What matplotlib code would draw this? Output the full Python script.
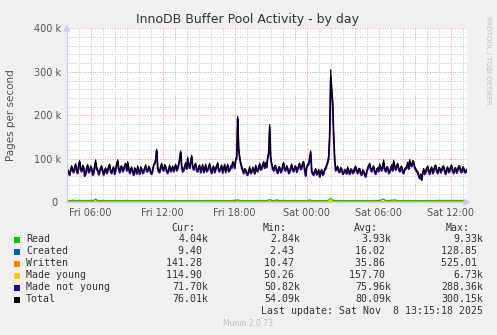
import matplotlib
matplotlib.use("Agg")
import matplotlib.pyplot as plt
from matplotlib.patches import Rectangle
from matplotlib.ticker import FixedLocator, MultipleLocator

# 5 minute samples, hours counted from Fri 00:00 (first sample Fri 04:05)
start_h = 4 + 5 / 60
step_h = 5 / 60

not_young_k = [
    72, 66, 62, 74, 80, 71, 68, 79, 85, 70, 66, 84, 92, 74, 70, 82, 78, 60, 64, 76,
    83, 68, 70, 80, 76, 62, 65, 82, 90, 75, 72, 63, 68, 78, 80, 70, 62, 72, 76, 66,
    70, 81, 84, 69, 66, 75, 78, 64, 72, 86, 94, 76, 68, 79, 80, 70, 74, 83, 86, 72,
    90, 77, 66, 73, 78, 68, 62, 76, 72, 65, 80, 71, 64, 78, 74, 66, 68, 77, 82, 71,
    70, 79, 76, 67, 64, 72, 84, 88, 96, 118, 78, 70, 68, 80, 86, 74, 72, 83, 80, 69,
    66, 74, 82, 70, 74, 80, 70, 78, 84, 72, 76, 86, 98, 114, 80, 70, 72, 81, 88, 76,
    100, 84, 78, 92, 104, 80, 74, 83, 86, 72, 70, 79, 82, 68, 76, 84, 68, 74, 84, 70,
    72, 80, 86, 73, 66, 77, 80, 68, 74, 82, 88, 71, 70, 78, 82, 67, 76, 84, 68, 76,
    84, 70, 72, 80, 78, 90, 86, 78, 96, 100, 192, 120, 100, 88, 80, 72, 66, 74, 72, 64,
    62, 70, 78, 66, 68, 77, 74, 65, 82, 72, 70, 79, 86, 74, 76, 84, 90, 78, 88, 80,
    100, 110, 172, 100, 86, 76, 72, 80, 80, 70, 66, 77, 78, 68, 70, 82, 88, 74, 72, 81,
    76, 66, 68, 78, 84, 72, 70, 79, 80, 69, 74, 83, 86, 75, 78, 88, 90, 72, 60, 80,
    84, 86, 100, 114, 70, 64, 62, 70, 74, 63, 66, 72, 58, 68, 72, 62, 64, 74, 76, 84,
    90, 100, 150, 288.36, 255, 224, 150, 95, 72, 76, 80, 70, 68, 77, 74, 64, 66, 72, 70, 65,
    78, 70, 64, 73, 72, 66, 68, 76, 80, 70, 66, 74, 74, 64, 62, 71, 70, 63, 58, 68,
    76, 82, 86, 74, 70, 78, 80, 68, 64, 73, 76, 70, 84, 76, 72, 80, 90, 74, 70, 78,
    78, 66, 68, 76, 82, 72, 92, 80, 74, 82, 86, 76, 70, 78, 80, 68, 66, 74, 76, 80,
    88, 76, 94, 84, 82, 92, 90, 78, 74, 70, 68, 60, 54, 62, 50.82, 66, 74, 64, 68, 76,
    80, 70, 64, 74, 78, 66, 70, 80, 82, 70, 66, 76, 76, 68, 72, 79, 80, 70, 64, 74,
    78, 68, 70, 80, 82, 70, 66, 75, 76, 67, 72, 80, 80, 70, 68, 78, 76, 68, 68, 71.70,
]

read_k = [
    3.9, 4.0, 4.1, 3.8, 4.2, 5.2, 4.1, 3.8, 4.0, 3.7, 3.9, 4.1, 3.8, 3.9, 4.0, 3.8, 4.2, 3.9, 3.8, 4.0,
    3.9, 3.7, 4.0, 3.9, 4.1, 3.8, 4.3, 5.5, 7.6, 5.1, 4.0, 3.8, 3.7, 3.9, 4.0, 3.9, 4.1, 3.8, 3.8, 4.0,
    3.9, 4.0, 3.7, 3.9, 4.0, 3.8, 4.1, 3.9, 3.8, 4.0, 3.9, 3.7, 4.1, 3.8, 3.9, 4.0, 3.8, 3.9, 4.1, 3.8,
    3.7, 3.9, 4.0, 3.8, 3.9, 4.1, 3.6, 3.9, 3.9, 4.0, 4.0, 3.8, 3.8, 3.9, 3.7, 4.0, 3.9, 3.8, 4.1, 3.9,
    3.9, 4.0, 4.1, 3.8, 3.8, 3.9, 3.7, 4.1, 4.0, 3.9, 3.9, 3.8, 3.7, 4.0, 4.0, 3.9, 3.8, 4.1, 3.9, 3.8,
    4.1, 3.9, 3.8, 4.0, 3.9, 3.8, 3.7, 4.0, 4.0, 3.9, 3.9, 3.7, 3.8, 4.0, 4.1, 3.8, 3.9, 4.1, 3.7, 3.9,
    3.9, 4.0, 3.8, 3.9, 4.0, 3.8, 3.7, 4.0, 3.9, 3.8, 4.1, 3.9, 3.8, 4.0, 3.9, 3.7, 3.6, 3.9, 4.0, 3.9,
    3.8, 3.9, 4.0, 3.8, 3.9, 4.1, 3.7, 3.9, 4.1, 3.8, 3.8, 4.0, 3.9, 3.7, 4.0, 3.9, 3.7, 3.9, 3.9, 4.0,
    4.0, 3.8, 3.8, 3.9, 3.9, 4.1, 4.1, 4.3, 4.4, 4.8, 5.6, 4.9, 4.2, 4.0, 3.8, 3.9, 3.9, 3.7, 3.7, 3.9,
    3.9, 4.0, 4.0, 3.8, 3.8, 3.9, 3.9, 4.0, 3.7, 3.9, 4.0, 3.8, 3.8, 3.9, 3.9, 4.1, 4.1, 3.8, 3.8, 3.9,
    4.5, 5.2, 6.6, 5.0, 4.2, 3.9, 3.9, 4.2, 4.8, 5.8, 4.6, 4.0, 4.0, 3.9, 3.8, 3.9, 3.9, 4.0, 3.7, 3.8,
    3.8, 4.0, 3.9, 3.8, 4.1, 3.9, 3.7, 4.0, 3.9, 3.8, 3.8, 3.9, 4.0, 3.7, 3.9, 4.1, 3.9, 3.8, 2.84, 3.4,
    4.0, 4.5, 5.4, 4.6, 3.9, 3.8, 3.8, 3.7, 3.7, 3.9, 3.9, 3.6, 3.6, 3.8, 3.8, 3.9, 3.9, 3.7, 3.7, 3.9,
    4.4, 5.2, 7.8, 9.33, 6.8, 5.0, 4.2, 4.0, 3.9, 3.8, 3.8, 4.0, 4.0, 3.7, 3.7, 3.9, 3.9, 3.8, 3.8, 3.9,
    3.9, 3.7, 3.7, 4.0, 4.0, 3.8, 3.8, 3.9, 3.9, 3.6, 3.6, 3.8, 3.8, 4.0, 4.0, 3.7, 3.7, 3.9, 3.9, 3.8,
    3.8, 4.0, 4.0, 3.9, 3.9, 3.7, 3.7, 4.1, 4.1, 3.8, 3.8, 4.0, 4.5, 4.9, 5.6, 6.5, 7.4, 5.2, 4.3, 3.9,
    3.8, 4.0, 4.0, 4.2, 4.4, 4.8, 5.0, 5.6, 4.6, 4.1, 3.9, 3.8, 3.8, 3.7, 3.7, 4.0, 4.0, 3.8, 3.8, 3.9,
    4.1, 3.9, 3.9, 3.8, 3.8, 4.0, 4.0, 3.7, 3.7, 3.9, 3.9, 3.6, 3.5, 3.6, 3.8, 3.8, 3.9, 3.9, 3.8, 3.8,
    3.8, 4.0, 4.0, 3.9, 3.9, 3.7, 3.7, 4.0, 4.0, 3.8, 3.8, 3.9, 3.9, 4.1, 4.1, 3.8, 3.8, 3.9, 3.9, 3.9,
    4.0, 3.8, 3.8, 3.9, 3.9, 4.1, 4.1, 3.8, 3.8, 3.9, 3.9, 4.0, 4.0, 3.9, 3.9, 4.1, 4.1, 4.0, 3.9, 4.04,
]

made_young = [
    112, 105, 98, 118, 125, 110, 104, 96, 118, 122, 96, 108, 130, 115, 108, 99, 101, 117, 122, 109,
    140, 131, 126, 112, 110, 104, 99, 121, 117, 112, 105, 98, 121, 109, 97, 115, 113, 104, 108, 116,
    102, 111, 119, 104, 95, 107, 114, 120, 107, 99, 128, 114, 100, 97, 111, 106, 96, 118, 123, 103,
    131, 119, 104, 112, 115, 101, 98, 110, 109, 121, 120, 106, 94, 103, 112, 118, 103, 97, 118, 109,
    106, 98, 97, 113, 121, 115, 110, 102, 142, 131, 101, 109, 116, 104, 99, 111, 124, 117, 108, 96,
    95, 104, 113, 120, 104, 98, 119, 112, 100, 107, 127, 133, 138, 121, 109, 101, 98, 110, 115, 122,
    129, 118, 103, 116, 135, 114, 97, 105, 112, 109, 106, 99, 118, 111, 101, 97, 95, 108, 120, 113,
    108, 102, 114, 107, 99, 111, 123, 116, 105, 98, 111, 103, 96, 107, 117, 112, 102, 96, 109, 118,
    121, 107, 98, 105, 113, 110, 107, 121, 136, 172, 210, 166, 125, 113, 104, 99, 97, 104, 110, 101,
    93, 106, 116, 110, 102, 104, 108, 113, 119, 107, 99, 106, 114, 110, 105, 113, 122, 127, 131, 140,
    150, 170, 188, 151, 118, 109, 101, 116, 132, 114, 97, 103, 109, 106, 103, 111, 120, 108, 96, 104,
    111, 107, 104, 110, 117, 106, 99, 103, 108, 111, 113, 119, 125, 112, 102, 114, 126, 110, 94, 104,
    115, 141, 170, 132, 98, 95, 92, 99, 106, 102, 99, 94, 90, 97, 104, 99, 95, 103, 112, 170,
    240, 1200, 4100, 6730, 1480, 620, 160, 132, 108, 111, 115, 108, 101, 104, 107, 101, 96, 99, 103, 106,
    110, 104, 97, 101, 105, 102, 99, 106, 114, 105, 96, 101, 107, 100, 93, 97, 102, 96, 91, 100,
    109, 113, 118, 109, 100, 106, 112, 105, 98, 102, 106, 113, 121, 140, 164, 146, 127, 114, 101, 104,
    108, 102, 97, 113, 130, 124, 119, 111, 103, 109, 115, 107, 99, 104, 110, 102, 95, 99, 104, 112,
    120, 124, 128, 120, 113, 117, 122, 111, 101, 99, 98, 93, 88, 86, 84, 93, 103, 100, 97, 104,
    111, 102, 94, 101, 108, 104, 100, 107, 115, 105, 96, 100, 105, 103, 102, 107, 112, 102, 93, 100,
    107, 103, 99, 107, 116, 105, 95, 99, 104, 102, 101, 105, 110, 104, 98, 102, 106, 110, 112, 114.9,
]

written = [
    28, 30, 31, 38, 45, 35, 26, 29, 33, 31, 29, 33, 38, 31, 24, 27, 30, 32, 35, 32,
    62, 55, 48, 37, 27, 29, 32, 28, 25, 30, 36, 32, 29, 30, 31, 27, 23, 28, 34, 32,
    30, 28, 27, 30, 33, 31, 29, 32, 36, 30, 25, 28, 31, 29, 28, 31, 34, 30, 26, 29,
    40, 34, 29, 30, 32, 28, 24, 27, 30, 32, 35, 31, 27, 29, 31, 29, 28, 30, 33, 31,
    29, 30, 32, 29, 26, 30, 34, 40, 52, 41, 30, 28, 27, 30, 33, 30, 28, 29, 31, 28,
    25, 30, 36, 32, 29, 30, 32, 31, 30, 29, 28, 38, 49, 40, 31, 28, 26, 30, 34, 36,
    38, 33, 29, 35, 41, 34, 27, 30, 33, 31, 30, 29, 28, 31, 35, 29, 24, 27, 31, 30,
    29, 31, 34, 30, 26, 29, 32, 31, 30, 29, 27, 30, 33, 31, 29, 30, 31, 30, 28, 30,
    32, 29, 27, 28, 30, 32, 34, 39, 44, 70, 96, 67, 38, 33, 29, 27, 26, 28, 31, 27,
    24, 27, 30, 29, 28, 30, 33, 31, 29, 30, 31, 29, 27, 30, 32, 33, 35, 37, 40, 49,
    58, 73, 88, 62, 36, 32, 29, 37, 46, 37, 28, 30, 31, 29, 27, 30, 33, 29, 26, 28,
    30, 29, 28, 31, 34, 29, 25, 28, 31, 30, 29, 32, 36, 31, 27, 31, 35, 28, 21, 25,
    30, 47, 64, 46, 28, 26, 24, 26, 29, 27, 26, 24, 22, 25, 28, 26, 25, 28, 31, 70,
    110, 300, 480, 525.01, 240, 140, 48, 39, 30, 31, 33, 30, 27, 29, 31, 28, 26, 27, 29, 30,
    31, 28, 25, 27, 30, 28, 27, 30, 33, 29, 26, 27, 29, 26, 24, 26, 28, 19, 10.47, 20,
    30, 32, 35, 31, 27, 29, 32, 29, 26, 28, 30, 34, 38, 55, 72, 54, 36, 32, 29, 30,
    31, 29, 27, 35, 44, 40, 35, 32, 29, 31, 33, 30, 27, 29, 31, 28, 25, 27, 29, 33,
    37, 38, 40, 36, 33, 34, 36, 32, 28, 27, 26, 22, 18, 17, 16, 22, 29, 28, 27, 29,
    32, 28, 25, 27, 30, 29, 28, 30, 33, 30, 26, 27, 29, 29, 31, 30, 30, 29, 25, 28,
    31, 30, 28, 30, 33, 30, 26, 28, 30, 29, 29, 30, 32, 29, 27, 28, 30, 60, 110, 141.28,
]

created = [
    14, 13, 12, 17, 22, 16, 11, 13, 15, 14, 13, 15, 18, 14, 10, 12, 14, 15, 16, 15,
    34, 30, 26, 19, 12, 13, 15, 13, 11, 14, 17, 15, 13, 13, 14, 12, 10, 12, 15, 14,
    13, 12, 12, 14, 16, 15, 14, 15, 17, 14, 11, 13, 15, 14, 12, 13, 16, 15, 13, 14,
    19, 15, 12, 13, 15, 12, 10, 12, 14, 15, 16, 14, 12, 13, 14, 13, 13, 14, 15, 14,
    14, 14, 15, 13, 12, 14, 16, 22, 28, 20, 13, 12, 12, 14, 16, 14, 13, 13, 14, 13,
    11, 14, 17, 15, 13, 14, 15, 13, 14, 13, 12, 18, 24, 19, 14, 13, 12, 14, 16, 17,
    18, 15, 13, 16, 20, 16, 12, 13, 15, 14, 14, 13, 13, 14, 16, 13, 11, 12, 14, 13,
    13, 14, 16, 14, 12, 13, 15, 14, 14, 13, 12, 14, 16, 14, 13, 13, 14, 13, 12, 13,
    15, 13, 12, 13, 14, 15, 16, 18, 21, 35, 48, 32, 17, 15, 13, 12, 12, 13, 14, 13,
    11, 12, 14, 13, 13, 14, 15, 14, 13, 13, 14, 13, 12, 13, 15, 15, 16, 17, 19, 23,
    27, 35, 42, 30, 16, 14, 13, 17, 22, 17, 13, 13, 14, 13, 12, 13, 15, 13, 12, 12,
    14, 13, 13, 14, 16, 14, 11, 12, 14, 13, 13, 15, 17, 14, 12, 14, 16, 13, 2.43, 8,
    14, 22, 30, 22, 13, 12, 11, 12, 13, 12, 12, 11, 10, 12, 13, 12, 11, 12, 14, 30,
    52, 90, 120, 128.85, 86, 50, 22, 17, 14, 14, 15, 14, 12, 13, 14, 13, 12, 13, 13, 13,
    14, 13, 11, 12, 14, 13, 12, 13, 15, 13, 12, 12, 13, 12, 11, 12, 13, 11, 9, 11,
    14, 15, 16, 14, 12, 13, 15, 13, 12, 13, 14, 16, 18, 26, 34, 25, 17, 15, 13, 13,
    14, 13, 12, 16, 21, 18, 16, 15, 13, 14, 15, 14, 11, 12, 13, 12, 11, 12, 13, 15,
    17, 18, 19, 17, 15, 16, 17, 15, 13, 12, 12, 10, 8, 7, 7, 10, 13, 13, 12, 13,
    15, 13, 11, 12, 14, 13, 13, 14, 15, 14, 12, 12, 13, 13, 14, 13, 13, 13, 12, 13,
    14, 14, 13, 14, 15, 13, 12, 13, 14, 13, 13, 14, 15, 13, 12, 13, 14, 12, 11, 9.40,
]

series_names = ["Read", "Created", "Written", "Made young", "Made not young", "Total"]
series_colors = ["#00CC00", "#0066B3", "#FF8000", "#FFCC00", "#330099", "#000000"]
cur_txt = ["4.04k", "9.40 ", "141.28 ", "114.90 ", "71.70k", "76.01k"]
min_txt = ["2.84k", "2.43 ", "10.47 ", "50.26 ", "50.82k", "54.09k"]
avg_txt = ["3.93k", "16.02 ", "35.86 ", "157.70 ", "75.96k", "80.09k"]
max_txt = ["9.33k", "128.85 ", "525.01 ", "6.73k", "288.36k", "300.15k"]

x_ticks = [6, 12, 18, 24, 30, 36]
x_labels = ["Fri 06:00", "Fri 12:00", "Fri 18:00", "Sat 00:00", "Sat 06:00", "Sat 12:00"]
y_ticks = [0, 100000, 200000, 300000, 400000]
y_labels = ["0 ", "100 k", "200 k", "300 k", "400 k"]

n = len(not_young_k)
hours = [start_h + step_h * i for i in range(n)]
read = [v * 1000 for v in read_k]
not_young = [v * 1000 for v in not_young_k]
# munin's Total is the sum of the other fields
total = [read[i] + created[i] + written[i] + made_young[i] + not_young[i] for i in range(n)]

W, H = 497, 335
fig = plt.figure(figsize=(W / 100, H / 100), dpi=100, facecolor="#F0F0F0")
ax = fig.add_axes([66.7 / W, 1 - 202.3 / H, 400 / W, 174 / H])
ax.set_facecolor("white")

widths = [1.0, 1.0, 1.0, 1.0, 1.3, 0.8]
for vals, col, lw in zip([read, created, written, made_young, not_young, total], series_colors, widths):
    ax.plot(hours, vals, color=col, lw=lw)

ax.set_xlim(4, 4 + 2000 / 60)
ax.set_ylim(0, 400000)
ax.xaxis.set_major_locator(FixedLocator(x_ticks))
ax.xaxis.set_minor_locator(MultipleLocator(1))
ax.set_xticklabels(x_labels)
ax.yaxis.set_major_locator(FixedLocator(y_ticks))
ax.yaxis.set_minor_locator(MultipleLocator(20000))
ax.set_yticklabels(y_labels)
ax.grid(which="minor", color="#C8C8C8", linestyle=(0, (1, 1.5)), lw=0.72)
ax.grid(which="major", color="#F0A0A0", linestyle=(0, (1, 1.5)), lw=0.72)
ax.set_axisbelow(True)
ax.tick_params(which="both", length=0, labelsize=7, colors="#555555", pad=4)
for s in ["top", "right"]:
    ax.spines[s].set_visible(False)
for s in ["left", "bottom"]:
    ax.spines[s].set_color("#C8CCF0")
    ax.spines[s].set_linewidth(0.8)

arrow = dict(arrowstyle="-|>,head_length=0.4,head_width=0.2", color="#C8CCF0", lw=0.8)
ax.annotate("", xy=(0, 1.04), xytext=(0, 0.99), xycoords="axes fraction", arrowprops=arrow, annotation_clip=False)
ax.annotate("", xy=(1.017, 0), xytext=(0.99, 0), xycoords="axes fraction", arrowprops=arrow, annotation_clip=False)


def fx(x):
    return x / W


def fy(y):
    return 1 - y / H


fig.text(fx(248), fy(20), "InnoDB Buffer Pool Activity - by day", ha="center", va="center",
         fontsize=9, color="#333333")
fig.text(fx(11), fy(115), "Pages per second", rotation=90, ha="center", va="center",
         fontsize=7.5, color="#555555")
fig.text(fx(488), fy(16), "RRDTOOL / TOBI OETIKER", rotation=270, ha="center", va="top",
         fontsize=5, color="#C0C0C0")

mono = dict(family="DejaVu Sans Mono", fontsize=7.1, color="#333333", va="center")
fig.text(fx(195), fy(228), "Cur:", ha="right", **mono)
fig.text(fx(287), fy(228), "Min:", ha="right", **mono)
fig.text(fx(378), fy(228), "Avg:", ha="right", **mono)
fig.text(fx(470), fy(228), "Max:", ha="right", **mono)
for i, name in enumerate(series_names):
    y = 239.5 + 12 * i
    fig.patches.append(Rectangle((fx(14), fy(y + 3)), 6 / W, 6 / H, transform=fig.transFigure,
                                 facecolor=series_colors[i], edgecolor="none"))
    fig.text(fx(26), fy(y), name, ha="left", **mono)
    fig.text(fx(208.5), fy(y), cur_txt[i], ha="right", **mono)
    fig.text(fx(300.5), fy(y), min_txt[i], ha="right", **mono)
    fig.text(fx(391), fy(y), avg_txt[i], ha="right", **mono)
    fig.text(fx(483), fy(y), max_txt[i], ha="right", **mono)
fig.text(fx(483), fy(311.5), "Last update: Sat Nov  8 13:15:18 2025", ha="right", **mono)
fig.text(fx(248), fy(324), "Munin 2.0.73", ha="center", va="center", fontsize=5.5, color="#C0C0C0")

fig.savefig("out.png", dpi=100, facecolor=fig.get_facecolor())
